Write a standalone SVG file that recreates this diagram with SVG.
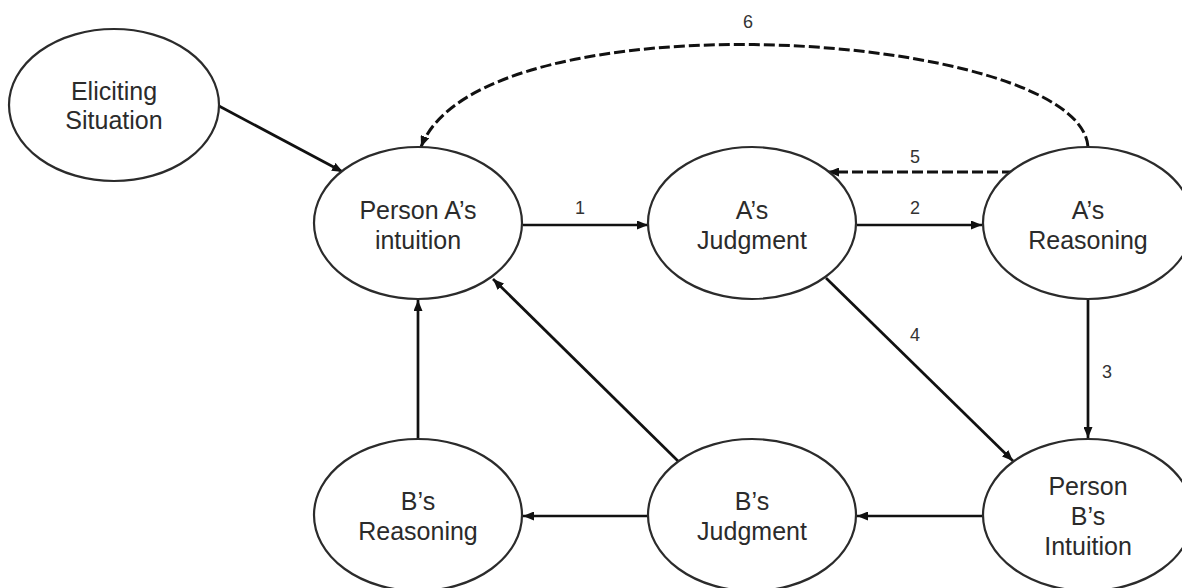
<svg xmlns="http://www.w3.org/2000/svg" width="1182" height="588" viewBox="0 0 1182 588">
<defs>
<style>
.node ellipse{fill:#fff;stroke:#2b2b2b;stroke-width:2.2}
.node text{font-family:"Liberation Sans",Arial,sans-serif;font-size:25px;fill:#2b2b2b;text-anchor:middle}
.edge{fill:none;stroke:#111;stroke-width:2.7;marker-end:url(#ah)}
.dash{stroke-dasharray:11 4;stroke-width:3}
.lbl{font-family:"Liberation Sans",Arial,sans-serif;font-size:18px;fill:#333;text-anchor:middle}
</style>
<marker id="ah" markerUnits="userSpaceOnUse" markerWidth="11" markerHeight="9" refX="11" refY="4.5" orient="auto">
<path d="M0,0 L11,4.5 L0,9 z" fill="#111"/>
</marker>
</defs>
<rect width="1182" height="588" fill="#fff"/>
<g id="connectors">
<path class="edge" d="M219,106 L343,172"/>
<path class="edge" d="M523,225 L648,225"/>
<path class="edge" d="M857,225 L982,225"/>
<path class="edge" d="M1088,300 L1088,438"/>
<path class="edge" d="M826,278 L1013,461"/>
<path class="edge dash" d="M1013,172 L828,172"/>
<path class="edge dash" d="M1088,147 C1080,30 480,-8 421,147"/>
<path class="edge" d="M983,516 L857,516"/>
<path class="edge" d="M648,516 L523,516"/>
<path class="edge" d="M418,439 L418,300"/>
<path class="edge" d="M679,462 L493,279"/>
<text class="lbl" x="580" y="214">1</text>
<text class="lbl" x="915" y="214">2</text>
<text class="lbl" x="1107" y="378">3</text>
<text class="lbl" x="915" y="341">4</text>
<text class="lbl" x="915" y="163">5</text>
<text class="lbl" x="748" y="28">6</text>
</g>
<g id="eliciting" class="node">
<ellipse cx="114" cy="105" rx="105" ry="76"/>
<text x="114" y="100">Eliciting</text>
<text x="114" y="129">Situation</text>
</g>
<g id="personA" class="node">
<ellipse cx="418" cy="223" rx="104" ry="76"/>
<text x="418" y="219">Person A’s</text>
<text x="418" y="249">intuition</text>
</g>
<g id="aJudgment" class="node">
<ellipse cx="752" cy="223" rx="104" ry="76"/>
<text x="752" y="219">A’s</text>
<text x="752" y="249">Judgment</text>
</g>
<g id="aReasoning" class="node">
<ellipse cx="1088" cy="223" rx="105" ry="76"/>
<text x="1088" y="219">A’s</text>
<text x="1088" y="249">Reasoning</text>
</g>
<g id="personB" class="node">
<ellipse cx="1088" cy="515" rx="105" ry="76"/>
<text x="1088" y="495">Person</text>
<text x="1088" y="525">B’s</text>
<text x="1088" y="555">Intuition</text>
</g>
<g id="bJudgment" class="node">
<ellipse cx="752" cy="515" rx="104" ry="76"/>
<text x="752" y="510">B’s</text>
<text x="752" y="540">Judgment</text>
</g>
<g id="bReasoning" class="node">
<ellipse cx="418" cy="515" rx="104" ry="76"/>
<text x="418" y="510">B’s</text>
<text x="418" y="540">Reasoning</text>
</g>
</svg>
